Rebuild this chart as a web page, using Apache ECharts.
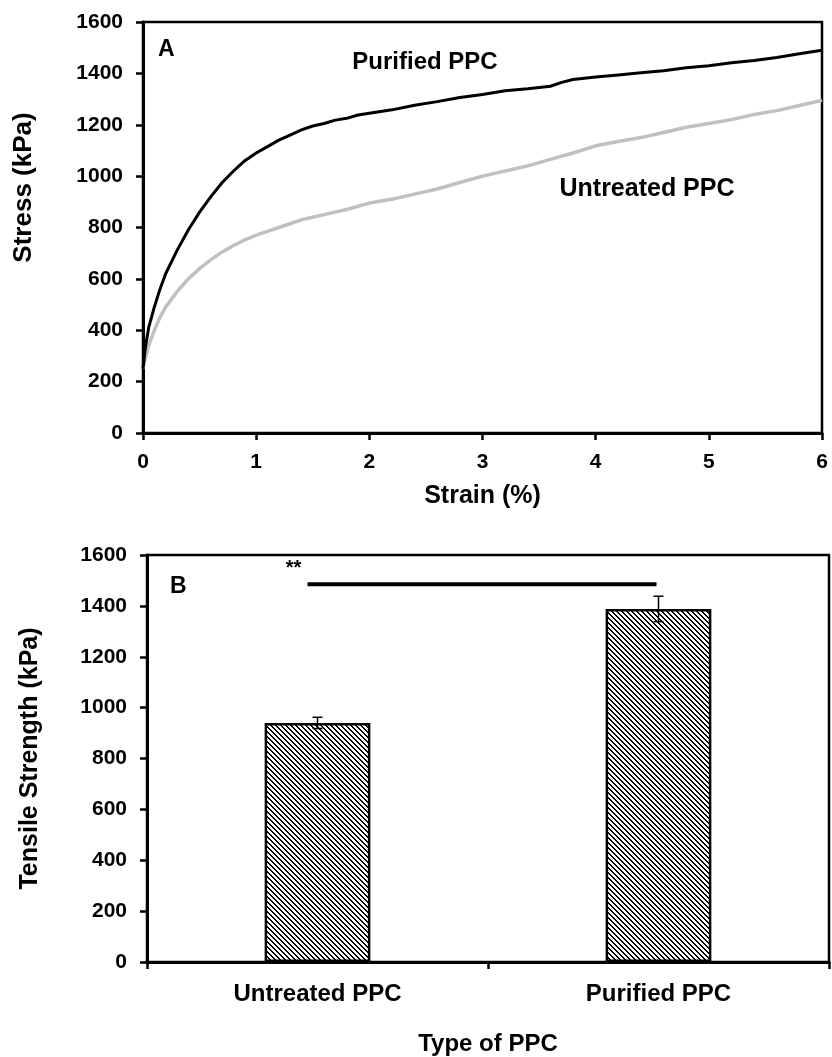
<!DOCTYPE html>
<html><head><meta charset="utf-8">
<script src="https://cdn.jsdelivr.net/npm/echarts/dist/echarts.min.js"></script>
<style>html,body{margin:0;padding:0;background:#fff}#c{width:832px;height:1057px}</style>
</head><body><div id="c"></div>
<script>
// ---- Panel A: stress-strain curves ----
const strainPurified = [0,0.02,0.05,0.1,0.15,0.2,0.3,0.4,0.5,0.6,0.7,0.8,0.9,1.0,1.1,1.2,1.3,1.4,1.5,1.6,1.7,1.8,1.9,2.0,2.2,2.4,2.6,2.8,3.0,3.2,3.4,3.6,3.7,3.8,4.0,4.2,4.4,4.6,4.8,5.0,5.2,5.4,5.6,5.8,6.0];
const stressPurified = [250,330,410,490,560,620,710,790,860,920,975,1020,1060,1090,1115,1140,1160,1180,1195,1205,1218,1225,1238,1245,1258,1276,1290,1306,1318,1332,1340,1350,1365,1376,1386,1394,1402,1410,1422,1430,1441,1450,1462,1476,1490];
const strainUntreated = [0,0.02,0.05,0.1,0.15,0.2,0.3,0.4,0.5,0.6,0.7,0.8,0.9,1.0,1.2,1.4,1.6,1.8,2.0,2.2,2.4,2.6,2.8,3.0,3.2,3.4,3.6,3.8,4.0,4.2,4.4,4.6,4.8,5.0,5.2,5.4,5.6,5.8,6.0];
const stressUntreated = [250,290,340,400,450,490,550,600,640,675,705,730,752,770,800,830,850,870,895,910,930,950,975,1000,1020,1040,1065,1090,1118,1135,1150,1170,1190,1205,1220,1240,1255,1275,1295];
const labelA = 'A';
const curveNames = ['Purified PPC', 'Untreated PPC'];

// ---- Panel B: tensile strength bars ----
const categories = ['Untreated PPC', 'Purified PPC'];
const tensileMean = [940, 1388];
const tensileErr = [22, 50];
const sigLevel = 1485;
const sigText = '**';
const labelB = 'B';

const FONT = 'Liberation Sans, Arial, sans-serif';
const txt = (size) => ({color:'#000', fontSize:size, fontWeight:'bold', fontFamily:FONT});
const plain = v => String(v);

// hatch pattern
const pc = document.createElement('canvas'); pc.width = 5; pc.height = 5;
const pctx = pc.getContext('2d');
pctx.fillStyle = '#fff'; pctx.fillRect(0,0,5,5); pctx.fillStyle = '#000';
for (let i = 0; i < 5; i++) { pctx.fillRect(i, i, 1, 1); pctx.fillRect((i + 1) % 5, i, 1, 1); }

const chart = echarts.init(document.getElementById('c'), null, {renderer:'canvas'});

const axisLine = {show:true, onZero:false, lineStyle:{color:'#000', width:3}};
const axisTick = {show:true, inside:false, length:7, lineStyle:{color:'#000', width:2.5}};

chart.setOption({
  animation:false,
  backgroundColor:'#fff',
  grid:[
    {left:143, right:10, top:22, height:411, show:true, borderColor:'#000', borderWidth:2.5, backgroundColor:'transparent'},
    {left:147, right:3, top:555, height:407, show:true, borderColor:'#000', borderWidth:2.5, backgroundColor:'transparent'}
  ],
  xAxis:[
    {gridIndex:0, type:'value', min:0, max:6, interval:1,
     axisLine, axisTick, splitLine:{show:false},
     axisLabel:Object.assign({margin:19, formatter:plain}, txt(21)),
     name:'Strain (%)', nameLocation:'middle', nameGap:51, nameTextStyle:txt(25)},
    {gridIndex:1, type:'category', data:categories,
     axisLine, axisTick:{show:true, inside:false, length:7, alignWithLabel:false, lineStyle:{color:'#000', width:2.5}},
     axisLabel:Object.assign({margin:20}, txt(24)),
     name:'Type of PPC', nameLocation:'middle', nameGap:70, nameTextStyle:txt(24)}
  ],
  yAxis:[
    {gridIndex:0, type:'value', min:0, max:1600, interval:200,
     axisLine, axisTick, splitLine:{show:false},
     axisLabel:Object.assign({margin:20, formatter:plain}, txt(21)),
     name:'Stress (kPa)', nameLocation:'middle', nameGap:106,
     nameTextStyle:Object.assign({padding:[0,0,0,80]}, txt(26))},
    {gridIndex:1, type:'value', min:0, max:1600, interval:200,
     axisLine, axisTick, splitLine:{show:false},
     axisLabel:Object.assign({margin:20, formatter:plain}, txt(21)),
     name:'Tensile Strength (kPa)', nameLocation:'middle', nameGap:104, nameTextStyle:txt(25)}
  ],
  series:[
    {type:'line', xAxisIndex:0, yAxisIndex:0, name:curveNames[1],
     data:strainUntreated.map((s,i)=>[s, stressUntreated[i]]),
     showSymbol:false, lineStyle:{color:'#c0c0c0', width:3.5}, z:2},
    {type:'line', xAxisIndex:0, yAxisIndex:0, name:curveNames[0],
     data:strainPurified.map((s,i)=>[s, stressPurified[i]]),
     showSymbol:false, lineStyle:{color:'#000', width:3}, z:3},
    {type:'bar', xAxisIndex:1, yAxisIndex:1, data:tensileMean, barWidth:'31%',
     itemStyle:{color:{image:pc, repeat:'repeat'}, borderColor:'#000', borderWidth:2.5}},
    {type:'custom', xAxisIndex:1, yAxisIndex:1, z:10,
     data:tensileMean.map((m,i)=>[i, m, tensileErr[i]]),
     renderItem(params, api){
       const x = api.value(0), m = api.value(1), e = api.value(2);
       const hi = api.coord([x, m + e]), lo = api.coord([x, m - e]);
       const w = 5, st = {stroke:'#000', lineWidth:1.5};
       return {type:'group', children:[
         {type:'line', shape:{x1:hi[0], y1:hi[1], x2:lo[0], y2:lo[1]}, style:st},
         {type:'line', shape:{x1:hi[0]-w, y1:hi[1], x2:hi[0]+w, y2:hi[1]}, style:st},
         {type:'line', shape:{x1:lo[0]-w, y1:lo[1], x2:lo[0]+w, y2:lo[1]}, style:st}
       ]};
     }},
    {type:'custom', xAxisIndex:1, yAxisIndex:1, z:10,
     data:[[0, 1, sigLevel]],
     renderItem(params, api){
       const a = api.coord([api.value(0), api.value(2)]);
       const b = api.coord([api.value(1), api.value(2)]);
       return {type:'group', children:[
         {type:'line', shape:{x1:a[0]-10, y1:a[1], x2:b[0]-2, y2:b[1]}, style:{stroke:'#000', lineWidth:4}},
         {type:'text', x:a[0]-24, y:a[1]-16, style:{text:sigText, textAlign:'center', textVerticalAlign:'middle', fill:'#000', font:'bold 20px ' + FONT}}
       ]};
     }}
  ],
  graphic:[
    {type:'text', left:158, top:38, style:{text:labelA, fill:'#000', font:'bold 23px ' + FONT}},
    {type:'text', left:170, top:575, style:{text:labelB, fill:'#000', font:'bold 23px ' + FONT}},
    {type:'text', x:425, y:62, style:{text:curveNames[0], fill:'#000', font:'bold 24px ' + FONT, textAlign:'center', textVerticalAlign:'middle'}},
    {type:'text', x:647, y:189, style:{text:curveNames[1], fill:'#000', font:'bold 25px ' + FONT, textAlign:'center', textVerticalAlign:'middle'}}
  ]
});
</script></body></html>
